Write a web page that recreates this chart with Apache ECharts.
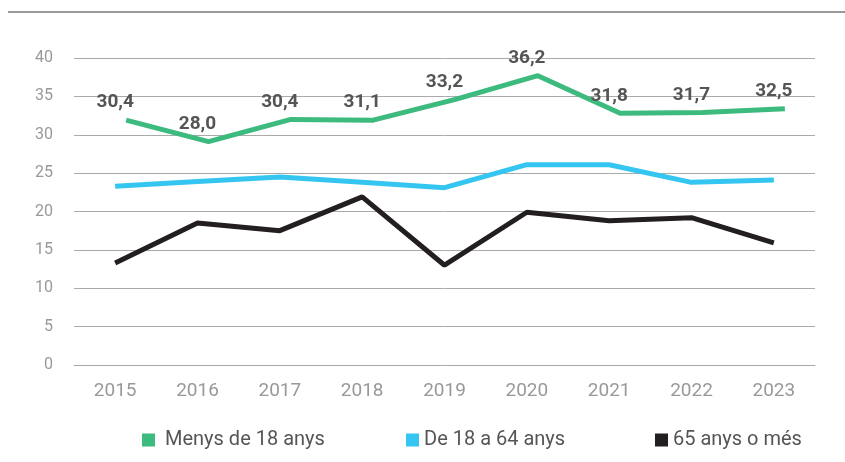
<!DOCTYPE html>
<html>
<head>
<meta charset="utf-8">
<script src="https://cdn.jsdelivr.net/npm/echarts@6/dist/echarts.min.js"></script>
<style>
  html, body { margin: 0; padding: 0; background: #fff; }
  #chart { width: 845px; height: 462px; }
</style>
</head>
<body>
<div id="chart"></div>
<script>
const years = ['2015', '2016', '2017', '2018', '2019', '2020', '2021', '2022', '2023']
const yTicks = [0, 5, 10, 15, 20, 25, 30, 35, 40]
const menys18 = [31.9, 29.1, 32.0, 31.9, 34.6, 37.7, 32.8, 32.9, 33.4]
const menys18Labels = ['30,4', '28,0', '30,4', '31,1', '33,2', '36,2', '31,8', '31,7', '32,5']
const de18a64 = [23.3, 23.9, 24.5, 23.8, 23.1, 26.1, 26.1, 23.8, 24.1]
const mes65 = [13.3, 18.5, 17.5, 21.9, 13.0, 19.9, 18.8, 19.2, 15.9]

const names = ['Menys de 18 anys', 'De 18 a 64 anys', '65 anys o més']
const colors = ['#3dba7e', '#35c5f1', '#231f20']

const chart = echarts.init(document.getElementById('chart'))

const legendBase = {
  top: 430,
  padding: 0,
  icon: 'rect',
  itemWidth: 13,
  itemHeight: 13,
  textStyle: { fontFamily: 'Roboto', fontSize: 20, color: '#555' }
}

chart.setOption({
  animation: false,
  textStyle: { fontFamily: 'Roboto' },
  graphic: [{
    type: 'line',
    shape: { x1: 8, y1: 12, x2: 845, y2: 12 },
    style: { stroke: '#999', lineWidth: 2 }
  }],
  legend: [
    Object.assign({}, legendBase, { left: 142, data: [names[0]], textStyle: Object.assign({}, legendBase.textStyle, { padding: [0, 0, 0, 5] }) }),
    Object.assign({}, legendBase, { left: 406, data: [names[1]] }),
    Object.assign({}, legendBase, { left: 655, data: [names[2]] })
  ],
  grid: [
    { left: 74, right: 30, top: 58, bottom: 97 },
    { left: 85, right: 19, top: 58, bottom: 97 }
  ],
  xAxis: [
    {
      type: 'category',
      gridIndex: 0,
      data: years,
      boundaryGap: true,
      axisLine: { lineStyle: { color: '#aaa', width: 1 } },
      axisTick: { show: false },
      axisLabel: { color: '#999', fontSize: 19, margin: 17 }
    },
    {
      type: 'category',
      gridIndex: 1,
      data: years,
      boundaryGap: true,
      show: false
    }
  ],
  yAxis: [
    {
      type: 'value',
      gridIndex: 0,
      min: yTicks[0],
      max: yTicks[yTicks.length - 1],
      interval: 5,
      axisLine: { show: false },
      axisTick: { show: false },
      axisLabel: { color: '#999', fontSize: 16, margin: 21 },
      splitLine: { lineStyle: { color: '#aaa', width: 1 } }
    },
    {
      type: 'value',
      gridIndex: 1,
      min: yTicks[0],
      max: yTicks[yTicks.length - 1],
      show: false
    }
  ],
  series: [
    {
      name: names[1],
      type: 'line',
      data: de18a64,
      xAxisIndex: 0,
      yAxisIndex: 0,
      symbol: 'none',
      color: colors[1],
      lineStyle: { width: 5, color: colors[1] }
    },
    {
      name: names[2],
      type: 'line',
      data: mes65,
      xAxisIndex: 0,
      yAxisIndex: 0,
      symbol: 'none',
      color: colors[2],
      lineStyle: { width: 5, color: colors[2] }
    },
    {
      name: names[0],
      type: 'line',
      data: menys18,
      xAxisIndex: 1,
      yAxisIndex: 1,
      symbol: 'circle',
      symbolSize: 0,
      showSymbol: true,
      color: colors[0],
      itemStyle: { color: colors[0] },
      lineStyle: { width: 5, color: colors[0] },
      label: {
        show: true,
        position: 'top',
        distance: 8,
        offset: [-11, 0],
        color: '#555',
        fontSize: 19,
        fontWeight: 'bold',
        formatter: p => menys18Labels[p.dataIndex]
      }
    }
  ]
})
</script>
</body>
</html>
